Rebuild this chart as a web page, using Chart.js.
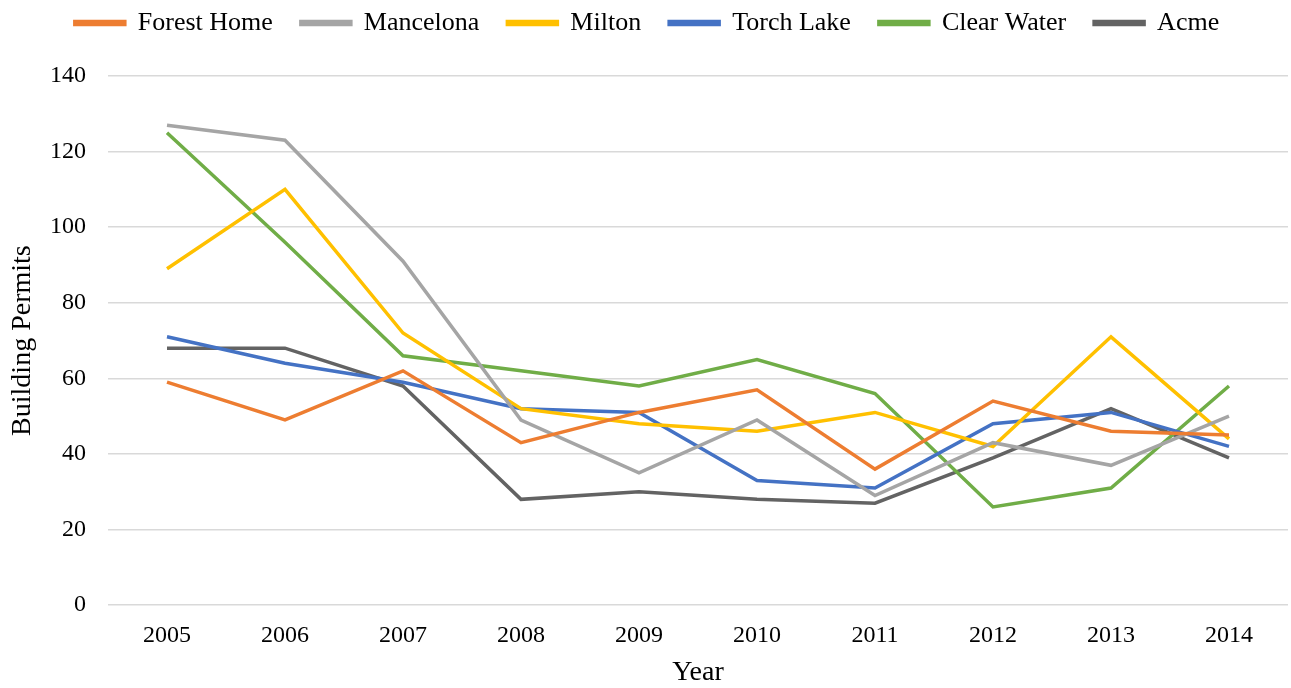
<!DOCTYPE html>
<html>
<head>
<meta charset="utf-8">
<title>Building Permits</title>
<script src="https://cdn.jsdelivr.net/npm/chart.js@4/dist/chart.umd.min.js"></script>
<style>
  html, body { margin: 0; padding: 0; background: #fff; }
  #wrap { width: 1291px; height: 688px; }
</style>
</head>
<body>
<div id="wrap"><canvas id="permitsChart" width="1291" height="688"></canvas></div>
<script>
const years = ['2005', '2006', '2007', '2008', '2009', '2010', '2011', '2012', '2013', '2014'];

const forestHome = [59, 49, 62, 43, 51, 57, 36, 54, 46, 45];
const mancelona  = [127, 123, 91, 49, 35, 49, 29, 43, 37, 50];
const milton     = [89, 110, 72, 52, 48, 46, 51, 42, 71, 44];
const torchLake  = [71, 64, 59, 52, 51, 33, 31, 48, 51, 42];
const clearWater = [125, 96, 66, 62, 58, 65, 56, 26, 31, 58];
const acme       = [68, 68, 58, 28, 30, 28, 27, 39, 52, 39];

const yTicks = [0, 20, 40, 60, 80, 100, 120, 140];

const FONT = "'Liberation Serif', 'Times New Roman', serif";

function series(label, data, color) {
    return {
        label: label,
        data: data,
        borderColor: color,
        backgroundColor: color,
        borderWidth: 3.5,
        pointRadius: 0,
        tension: 0
    };
}

// lift the legend row up toward the top edge, leaving the plot area where it is
const legendLift = {
    id: 'legendLift',
    afterLayout(chart) {
        chart.legend.top -= 30;
        chart.legend.bottom -= 30;
    }
};

const ctx = document.getElementById('permitsChart').getContext('2d');
new Chart(ctx, {
    type: 'line',
    data: {
        labels: years,
        datasets: [
            series('Forest Home', forestHome, '#ed7d31'),
            series('Mancelona', mancelona, '#a5a5a5'),
            series('Milton', milton, '#ffc000'),
            series('Torch Lake', torchLake, '#4472c4'),
            series('Clear Water', clearWater, '#70ad47'),
            series('Acme', acme, '#636363')
        ]
    },
    plugins: [legendLift],
    options: {
        responsive: false,
        animation: false,
        layout: { padding: { left: 6, right: 3, top: 12, bottom: 1 } },
        plugins: {
            legend: {
                position: 'top',
                labels: {
                    boxWidth: 50,
                    boxHeight: 3,
                    padding: 28,
                    color: '#000',
                    font: { family: FONT, size: 26 }
                }
            },
            tooltip: { enabled: false }
        },
        scales: {
            x: {
                offset: true,
                grid: { display: false },
                border: { display: false },
                ticks: { color: '#000', font: { family: FONT, size: 24 }, padding: 8 },
                title: {
                    display: true,
                    text: 'Year',
                    color: '#000',
                    font: { family: FONT, size: 28, lineHeight: 1 },
                    padding: { top: 1, bottom: 0 }
                }
            },
            y: {
                min: 0,
                max: 140,
                afterBuildTicks: axis => {
                    axis.ticks = yTicks.map(v => ({ value: v }));
                },
                afterFit: axis => { axis.width = 102; },
                grid: { color: '#d9d9d9', lineWidth: 1.5, drawTicks: false },
                border: { display: false },
                ticks: { color: '#000', font: { family: FONT, size: 24 }, padding: 22 },
                title: {
                    display: true,
                    text: 'Building Permits',
                    color: '#000',
                    font: { family: FONT, size: 28 },
                    padding: { top: 0, bottom: 4 }
                }
            }
        }
    }
});
</script>
</body>
</html>
